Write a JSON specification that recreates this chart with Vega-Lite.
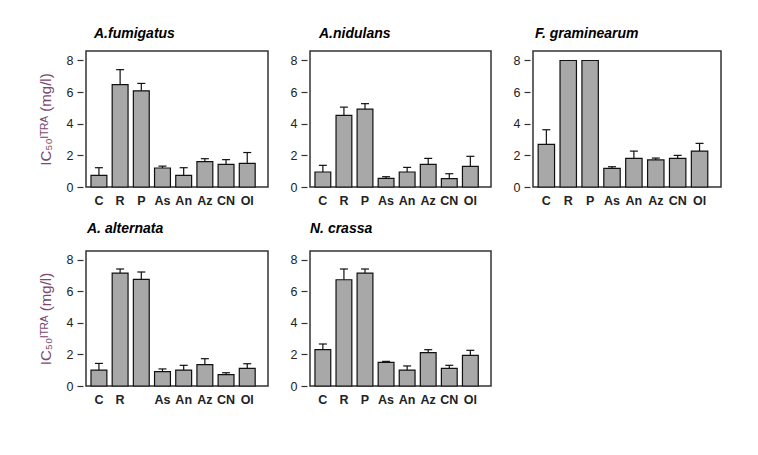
{
  "$schema": "https://vega.github.io/schema/vega-lite/v6.json",
  "background": "white",
  "padding": {"left": 37, "top": 26, "right": 5, "bottom": 5},
  "datasets": {
    "ic50": [
      {"panel": "A.fumigatus", "cat": "C", "value": 0.74, "upper": 1.22},
      {"panel": "A.fumigatus", "cat": "R", "value": 6.48, "upper": 7.42},
      {"panel": "A.fumigatus", "cat": "P", "value": 6.08, "upper": 6.55},
      {"panel": "A.fumigatus", "cat": "As", "value": 1.2, "upper": 1.32},
      {"panel": "A.fumigatus", "cat": "An", "value": 0.74, "upper": 1.22},
      {"panel": "A.fumigatus", "cat": "Az", "value": 1.61, "upper": 1.79},
      {"panel": "A.fumigatus", "cat": "CN", "value": 1.43, "upper": 1.73},
      {"panel": "A.fumigatus", "cat": "Ol", "value": 1.49, "upper": 2.18},
      {"panel": "A.nidulans", "cat": "C", "value": 0.95, "upper": 1.37},
      {"panel": "A.nidulans", "cat": "R", "value": 4.53, "upper": 5.05},
      {"panel": "A.nidulans", "cat": "P", "value": 4.92, "upper": 5.27},
      {"panel": "A.nidulans", "cat": "As", "value": 0.55, "upper": 0.65},
      {"panel": "A.nidulans", "cat": "An", "value": 0.95, "upper": 1.24},
      {"panel": "A.nidulans", "cat": "Az", "value": 1.43, "upper": 1.81},
      {"panel": "A.nidulans", "cat": "CN", "value": 0.53, "upper": 0.84},
      {"panel": "A.nidulans", "cat": "Ol", "value": 1.31, "upper": 1.94},
      {"panel": "F. graminearum", "cat": "C", "value": 2.69, "upper": 3.62},
      {"panel": "F. graminearum", "cat": "R", "value": 8.0, "upper": null},
      {"panel": "F. graminearum", "cat": "P", "value": 8.0, "upper": null},
      {"panel": "F. graminearum", "cat": "As", "value": 1.18, "upper": 1.28},
      {"panel": "F. graminearum", "cat": "An", "value": 1.81, "upper": 2.27},
      {"panel": "F. graminearum", "cat": "Az", "value": 1.71, "upper": 1.83},
      {"panel": "F. graminearum", "cat": "CN", "value": 1.81, "upper": 2.0},
      {"panel": "F. graminearum", "cat": "Ol", "value": 2.27, "upper": 2.76},
      {"panel": "A. alternata", "cat": "C", "value": 1.01, "upper": 1.43},
      {"panel": "A. alternata", "cat": "R", "value": 7.15, "upper": 7.41},
      {"panel": "A. alternata", "cat": "P", "value": 6.75, "upper": 7.22},
      {"panel": "A. alternata", "cat": "As", "value": 0.91, "upper": 1.08},
      {"panel": "A. alternata", "cat": "An", "value": 1.01, "upper": 1.31},
      {"panel": "A. alternata", "cat": "Az", "value": 1.35, "upper": 1.73},
      {"panel": "A. alternata", "cat": "CN", "value": 0.72, "upper": 0.84},
      {"panel": "A. alternata", "cat": "Ol", "value": 1.12, "upper": 1.41},
      {"panel": "N. crassa", "cat": "C", "value": 2.3, "upper": 2.66},
      {"panel": "N. crassa", "cat": "R", "value": 6.73, "upper": 7.41},
      {"panel": "N. crassa", "cat": "P", "value": 7.15, "upper": 7.41},
      {"panel": "N. crassa", "cat": "As", "value": 1.5, "upper": 1.56},
      {"panel": "N. crassa", "cat": "An", "value": 1.01, "upper": 1.27},
      {"panel": "N. crassa", "cat": "Az", "value": 2.11, "upper": 2.3},
      {"panel": "N. crassa", "cat": "CN", "value": 1.12, "upper": 1.31},
      {"panel": "N. crassa", "cat": "Ol", "value": 1.94, "upper": 2.26}
    ]
  },
  "data": {"name": "ic50"},
  "config": {
    "view": {"stroke": "#333333", "strokeWidth": 1.5},
    "font": "Liberation Sans",
    "title": {"anchor": "start", "frame": "group", "font": "Liberation Sans", "fontSize": 14, "fontStyle": "italic", "fontWeight": "bold", "color": "#000000", "offset": 10},
    "axisY": {"values": [0, 2, 4, 6, 8], "domain": false, "grid": false, "tickSize": 6, "tickColor": "#333333", "tickWidth": 1.2, "offset": 3, "labelPadding": 4, "labelFont": "Liberation Sans", "labelFontSize": 12.5, "labelColor": "#222222", "titleFont": "Liberation Sans", "titleFontSize": 15, "titleFontWeight": "normal", "titleColor": "#7a4a6e", "titlePadding": 13},
    "axisX": {"ticks": false, "domain": false, "grid": false, "labelAngle": 0, "labelPadding": 7, "labelFont": "Liberation Sans", "labelFontSize": 12.5, "labelFontWeight": "bold", "labelColor": "#222222", "title": null},
    "concat": {"spacing": 13}
  },
  "vconcat": [
    {
      "spacing": 20,
      "hconcat": [
        {
          "width": 182, "height": 136,
          "title": {"text": "A.fumigatus", "dx": 8},
          "transform": [{"filter": "datum.panel == 'A.fumigatus'"}],
          "encoding": {"x": {"field": "cat", "type": "nominal", "sort": ["C", "R", "P", "As", "An", "Az", "CN", "Ol"], "scale": {"paddingInner": 0.25, "paddingOuter": 0.42, "align": 0.28}}},
          "layer": [
            {"mark": {"type": "bar", "fill": "#a8a8a8", "stroke": "#111111", "strokeWidth": 1.2}, "encoding": {"y": {"field": "value", "type": "quantitative", "scale": {"domain": [0, 8.6], "nice": false, "zero": true}, "axis": {"title": "IC₅₀ᴵᵀᴿᴬ (mg/l)"}}}},
            {"transform": [{"filter": "isValid(datum.upper)"}], "mark": {"type": "rule", "stroke": "#111111", "strokeWidth": 1.2}, "encoding": {"y": {"field": "value", "type": "quantitative"}, "y2": {"field": "upper"}}},
            {"transform": [{"filter": "isValid(datum.upper)"}], "mark": {"type": "tick", "orient": "horizontal", "size": 8, "thickness": 1.2, "color": "#111111", "opacity": 1}, "encoding": {"y": {"field": "upper", "type": "quantitative"}}}
          ]
        },
        {
          "width": 181, "height": 136,
          "title": {"text": "A.nidulans", "dx": 9},
          "transform": [{"filter": "datum.panel == 'A.nidulans'"}],
          "encoding": {"x": {"field": "cat", "type": "nominal", "sort": ["C", "R", "P", "As", "An", "Az", "CN", "Ol"], "scale": {"paddingInner": 0.25, "paddingOuter": 0.42, "align": 0.28}}},
          "layer": [
            {"mark": {"type": "bar", "fill": "#a8a8a8", "stroke": "#111111", "strokeWidth": 1.2}, "encoding": {"y": {"field": "value", "type": "quantitative", "scale": {"domain": [0, 8.6], "nice": false, "zero": true}, "axis": {"title": null}}}},
            {"transform": [{"filter": "isValid(datum.upper)"}], "mark": {"type": "rule", "stroke": "#111111", "strokeWidth": 1.2}, "encoding": {"y": {"field": "value", "type": "quantitative"}, "y2": {"field": "upper"}}},
            {"transform": [{"filter": "isValid(datum.upper)"}], "mark": {"type": "tick", "orient": "horizontal", "size": 8, "thickness": 1.2, "color": "#111111", "opacity": 1}, "encoding": {"y": {"field": "upper", "type": "quantitative"}}}
          ]
        },
        {
          "width": 188, "height": 136,
          "title": {"text": "F. graminearum", "dx": 2},
          "transform": [{"filter": "datum.panel == 'F. graminearum'"}],
          "encoding": {"x": {"field": "cat", "type": "nominal", "sort": ["C", "R", "P", "As", "An", "Az", "CN", "Ol"], "scale": {"paddingInner": 0.25, "paddingOuter": 0.42, "align": 0.28}}},
          "layer": [
            {"mark": {"type": "bar", "fill": "#a8a8a8", "stroke": "#111111", "strokeWidth": 1.2}, "encoding": {"y": {"field": "value", "type": "quantitative", "scale": {"domain": [0, 8.6], "nice": false, "zero": true}, "axis": {"title": null}}}},
            {"transform": [{"filter": "isValid(datum.upper)"}], "mark": {"type": "rule", "stroke": "#111111", "strokeWidth": 1.2}, "encoding": {"y": {"field": "value", "type": "quantitative"}, "y2": {"field": "upper"}}},
            {"transform": [{"filter": "isValid(datum.upper)"}], "mark": {"type": "tick", "orient": "horizontal", "size": 8, "thickness": 1.2, "color": "#111111", "opacity": 1}, "encoding": {"y": {"field": "upper", "type": "quantitative"}}}
          ]
        }
      ]
    },
    {
      "spacing": 20,
      "hconcat": [
        {
          "width": 182, "height": 135,
          "title": {"text": "A. alternata", "dx": 1, "offset": 15},
          "transform": [{"filter": "datum.panel == 'A. alternata'"}],
          "encoding": {"x": {"field": "cat", "type": "nominal", "sort": ["C", "R", "P", "As", "An", "Az", "CN", "Ol"], "scale": {"paddingInner": 0.25, "paddingOuter": 0.42, "align": 0.28}, "axis": {"labelExpr": "datum.label == 'P' ? '' : datum.label"}}},
          "layer": [
            {"mark": {"type": "bar", "fill": "#a8a8a8", "stroke": "#111111", "strokeWidth": 1.2}, "encoding": {"y": {"field": "value", "type": "quantitative", "scale": {"domain": [0, 8.55], "nice": false, "zero": true}, "axis": {"title": "IC₅₀ᴵᵀᴿᴬ (mg/l)"}}}},
            {"transform": [{"filter": "isValid(datum.upper)"}], "mark": {"type": "rule", "stroke": "#111111", "strokeWidth": 1.2}, "encoding": {"y": {"field": "value", "type": "quantitative"}, "y2": {"field": "upper"}}},
            {"transform": [{"filter": "isValid(datum.upper)"}], "mark": {"type": "tick", "orient": "horizontal", "size": 8, "thickness": 1.2, "color": "#111111", "opacity": 1}, "encoding": {"y": {"field": "upper", "type": "quantitative"}}}
          ]
        },
        {
          "width": 181, "height": 135,
          "title": {"text": "N. crassa", "dx": 0, "offset": 15},
          "transform": [{"filter": "datum.panel == 'N. crassa'"}],
          "encoding": {"x": {"field": "cat", "type": "nominal", "sort": ["C", "R", "P", "As", "An", "Az", "CN", "Ol"], "scale": {"paddingInner": 0.25, "paddingOuter": 0.42, "align": 0.28}}},
          "layer": [
            {"mark": {"type": "bar", "fill": "#a8a8a8", "stroke": "#111111", "strokeWidth": 1.2}, "encoding": {"y": {"field": "value", "type": "quantitative", "scale": {"domain": [0, 8.55], "nice": false, "zero": true}, "axis": {"title": null}}}},
            {"transform": [{"filter": "isValid(datum.upper)"}], "mark": {"type": "rule", "stroke": "#111111", "strokeWidth": 1.2}, "encoding": {"y": {"field": "value", "type": "quantitative"}, "y2": {"field": "upper"}}},
            {"transform": [{"filter": "isValid(datum.upper)"}], "mark": {"type": "tick", "orient": "horizontal", "size": 8, "thickness": 1.2, "color": "#111111", "opacity": 1}, "encoding": {"y": {"field": "upper", "type": "quantitative"}}}
          ]
        }
      ]
    }
  ]
}
